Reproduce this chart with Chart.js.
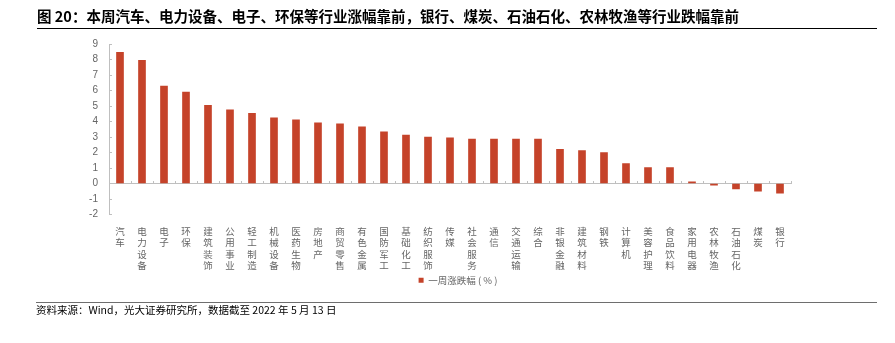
<!DOCTYPE html>
<html>
<head>
<meta charset="utf-8">
<script src="https://cdn.jsdelivr.net/npm/chart.js@4.4.1/dist/chart.umd.min.js"></script>
<style>
  html, body { margin: 0; padding: 0; background: #fff; }
  #wrap { position: relative; width: 895px; height: 343px; overflow: hidden; }
  #chart { position: absolute; left: 0; top: 0; }
  .title {
    position: absolute; left: 37px; top: 6px;
    font-family: "Noto Sans CJK SC", sans-serif; font-weight: bold;
    font-size: 14.5px; line-height: 20px; color: #000; white-space: nowrap;
  }
  .rule { position: absolute; left: 37px; width: 840px; height: 1px; background: #000; }
  .rule.top { top: 28px; }
  .rule.bottom { top: 302px; left: 36px; width: 841px; background: #6e6e6e; }
  .source {
    position: absolute; left: 36px; top: 303px;
    font-family: "Noto Sans CJK SC", sans-serif; font-size: 10.5px;
    line-height: 14px; color: #000; white-space: nowrap;
  }
</style>
</head>
<body>
<div id="wrap">
  <canvas id="chart" width="895" height="343"></canvas>
  <div class="title">图 20：本周汽车、电力设备、电子、环保等行业涨幅靠前，银行、煤炭、石油石化、农林牧渔等行业跌幅靠前</div>
  <div class="rule top"></div>
  <div class="rule bottom"></div>
  <div class="source">资料来源：Wind，光大证券研究所，数据截至 2022 年 5 月 13 日</div>
</div>
<script>
// Sector names (Shenwan level-1), ordered by weekly change
const categories = [
  '汽车', '电力设备', '电子', '环保', '建筑装饰', '公用事业', '轻工制造', '机械设备',
  '医药生物', '房地产', '商贸零售', '有色金属', '国防军工', '基础化工', '纺织服饰', '传媒',
  '社会服务', '通信', '交通运输', '综合', '非银金融', '建筑材料', '钢铁', '计算机',
  '美容护理', '食品饮料', '家用电器', '农林牧渔', '石油石化', '煤炭', '银行'
];

// Weekly change, %
const weeklyChange = [
  8.46, 7.94, 6.29, 5.90, 5.05, 4.76, 4.52, 4.24,
  4.11, 3.91, 3.85, 3.65, 3.33, 3.13, 3.00, 2.94,
  2.87, 2.87, 2.87, 2.87, 2.20, 2.13, 2.00, 1.28,
  1.02, 1.02, 0.11, -0.10, -0.35, -0.50, -0.63
];

const seriesName = '一周涨跌幅 ( % )';
const yTickValues = [-2, -1, 0, 1, 2, 3, 4, 5, 6, 7, 8, 9];

const axisGrey = '#BFBFBF';
const textGrey = '#666666';
const barRed = '#C5432A';

// nudge the legend a little right of the plot centre
const legendOffset = {
  id: 'legendOffset',
  afterLayout(chart) {
    const lg = chart.legend;
    if (lg) { lg.left += 8; lg.right += 8; }
  }
};

new Chart(document.getElementById('chart'), {
  type: 'bar',
  data: {
    // one character per line so the names read top to bottom
    labels: categories.map(name => Array.from(name)),
    datasets: [{
      label: seriesName,
      data: weeklyChange,
      backgroundColor: barRed,
      borderWidth: 0,
      barThickness: 7,
      xAxisID: 'x',
      yAxisID: 'y'
    }]
  },
  plugins: [legendOffset],
  options: {
    responsive: false,
    animation: false,
    devicePixelRatio: 1,
    layout: { padding: { left: 0, right: 104, top: 44, bottom: 48 } },
    plugins: {
      title: { display: false },
      tooltip: { enabled: false },
      legend: {
        display: true,
        position: 'bottom',
        fullSize: false,
        labels: {
          boxWidth: 5,
          boxHeight: 5,
          padding: 1,
          color: textGrey,
          font: { family: '"Noto Sans CJK SC", sans-serif', size: 9.5 }
        }
      }
    },
    scales: {
      y: {
        min: -2,
        max: 9,
        afterBuildTicks: scale => { scale.ticks = yTickValues.map(v => ({ value: v })); },
        afterFit: scale => { scale.width = 109; },
        border: { display: true, color: axisGrey, width: 1 },
        grid: { drawOnChartArea: false, drawTicks: true, tickLength: -3, color: axisGrey },
        ticks: {
          padding: 14,
          color: textGrey,
          font: { family: '"Liberation Sans", Arial, sans-serif', size: 10 }
        }
      },
      x: {
        type: 'category',
        position: 'bottom',
        offset: true,
        afterFit: scale => { scale.height = 60; },
        border: { display: false },
        grid: { display: false },
        ticks: {
          autoSkip: false,
          maxRotation: 0,
          minRotation: 0,
          padding: 3,
          color: textGrey,
          font: { family: '"Noto Sans CJK SC", sans-serif', size: 9.5, lineHeight: 1.2 }
        }
      },
      // zero line with small inward tick marks between categories
      x0: {
        type: 'category',
        position: { y: 0 },
        offset: true,
        afterFit: scale => { scale.height = 0; },
        border: { display: true, color: axisGrey, width: 1 },
        grid: { offset: true, drawOnChartArea: false, drawTicks: true, tickLength: -3, color: axisGrey },
        ticks: { display: false }
      }
    }
  }
});
</script>
</body>
</html>
